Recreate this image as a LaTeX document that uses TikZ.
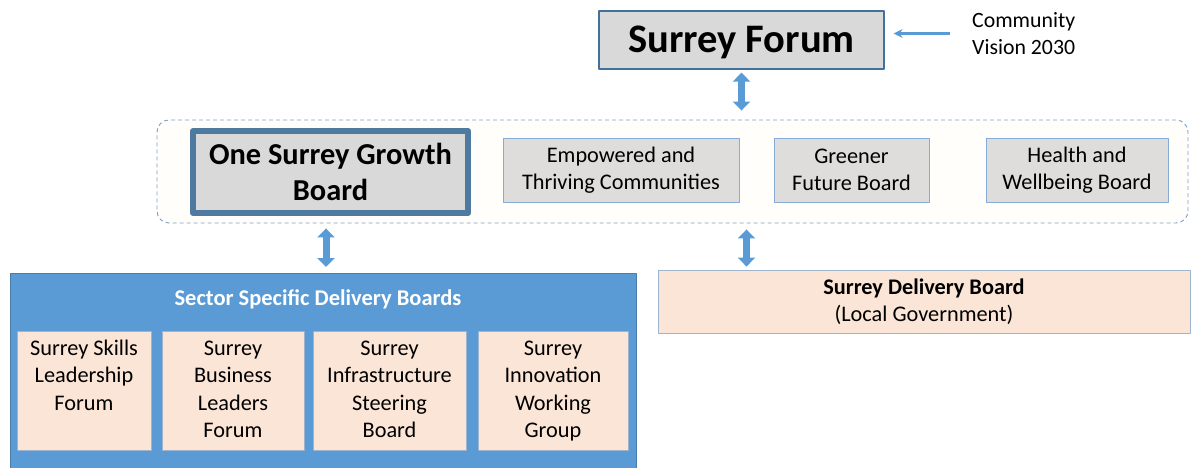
\documentclass[tikz,border=0pt]{standalone}
\usepackage{fontspec}
\setmainfont{Carlito}
\usetikzlibrary{arrows.meta}
\definecolor{forumgray}{HTML}{D9D9D9}
\definecolor{boardgray}{HTML}{DEDDDB}
\definecolor{edgeblue}{HTML}{41719C}
\definecolor{growthblue}{HTML}{4F7AA0}
\definecolor{lightedge}{HTML}{85ABD6}
\definecolor{peach}{HTML}{FBE5D6}
\definecolor{peachedge}{HTML}{9DB3CE}
\definecolor{sectorblue}{HTML}{5B9BD5}
\definecolor{dashblue}{HTML}{7F9FC6}
\definecolor{paleground}{HTML}{FFFEFB}
\begin{document}
\begin{tikzpicture}[x=1pt,y=-1pt,line join=round,
	txt/.style={font=\fontsize{22.3}{27.3}\selectfont,align=center},
	forumbox/.style={draw=edgeblue,line width=1.2pt,fill=forumgray,font=\fontsize{40.5}{46}\selectfont\bfseries},
	growthbox/.style={draw=growthblue,line width=6pt,fill=forumgray,align=center,font=\fontsize{30.4}{36}\selectfont\bfseries},
	boardbox/.style={txt,draw=lightedge,line width=0.9pt,fill=boardgray,minimum height=64pt},
	sectorbox/.style={txt,draw=peachedge,line width=0.8pt,fill=peach,minimum height=119pt,anchor=north},
	blockarrow/.style={sectorblue,line width=7pt,{Triangle[width=17pt,length=9pt]}-{Triangle[width=17pt,length=9pt]}}]
	\useasboundingbox (0,0) rectangle (1195,468);
	% top
	\node[forumbox,minimum width=285pt,minimum height=58pt,text height=30pt,text depth=4pt] (forum) at (741.5,40) {Surrey Forum};
	\node[txt,font=\fontsize{21.8}{27.3}\selectfont,align=left,anchor=west,inner sep=0pt] (vision) at (972,33.5) {Community\\Vision 2030};
	\draw[sectorblue,line width=2.2pt,-{Stealth[length=9pt,width=9pt]},shorten <=22pt,shorten >=9pt] (vision.west) -- (vision.west -| forum.east);
	% council boards
	\node[draw=dashblue,dash pattern=on 4pt off 3pt,line width=0.9pt,fill=paleground,rounded corners=12pt,minimum width=1031pt,minimum height=103pt] (council) at (672.5,171.5) {};
	\node[growthbox,minimum width=275pt,minimum height=82pt] (growth) at (330.5,172) {One Surrey Growth\\Board};
	\node[boardbox,minimum width=236pt] (thriving) at (621,170) {Empowered and\\Thriving Communities};
	\node[boardbox,minimum width=155pt] (greener) at (851.5,170) {Greener\\Future Board};
	\node[boardbox,minimum width=182pt] (health) at (1077,170) {Health and\\Wellbeing Board};
	% delivery
	\node[draw=sectorblue!80!black,line width=0.8pt,fill=sectorblue,minimum width=626pt,minimum height=200pt,anchor=north] (sector) at (323,273) {};
	\node[txt,text=white,font=\fontsize{22.5}{27}\selectfont\bfseries] (sectortitle) at (318,299) {Sector Specific Delivery Boards};
	\node[sectorbox,minimum width=134pt] (skills) at (84,331) {\strut Surrey Skills\\Leadership\\Forum\\\strut};
	\node[sectorbox,minimum width=142pt] (business) at (233,331) {\strut Surrey\\Business\\Leaders\\Forum\strut};
	\node[sectorbox,minimum width=153pt] (infra) at (389.5,331) {\strut Surrey\\Infrastructure\\Steering\\Board\strut};
	\node[sectorbox,minimum width=150pt] (innovation) at (553,331) {\strut Surrey\\Innovation\\Working\\Group\strut};
	\node[txt,draw=peachedge,line width=0.8pt,fill=peach,minimum width=532pt,minimum height=63pt] (delivery) at (924,301.5) {\textbf{Surrey Delivery Board}\\(Local Government)};
	% links
	\draw[blockarrow,shorten <=3pt,shorten >=9pt] (forum.south) -- (forum.south |- council.north);
	\draw[blockarrow,shorten <=5pt,shorten >=6pt] ([xshift=3pt]sector.north |- council.south) -- ([xshift=3pt]sector.north);
	\draw[blockarrow,shorten <=6pt,shorten >=3pt] ([xshift=5pt]forum.south |- council.south) -- ([xshift=5pt]forum.south |- delivery.north);
\end{tikzpicture}
\end{document}
